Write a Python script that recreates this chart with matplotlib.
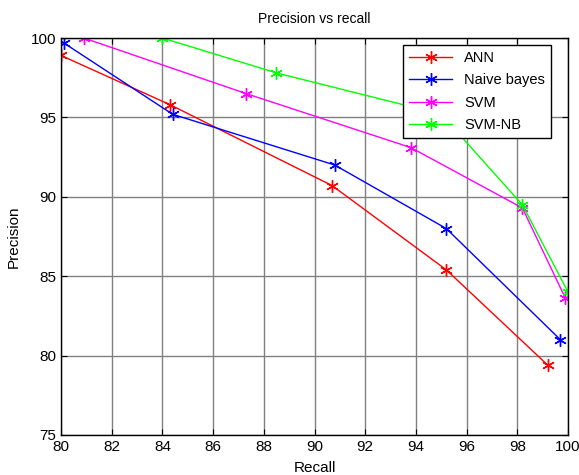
import matplotlib.pyplot as plt

plt.rcParams['font.family'] = ['Liberation Sans', 'DejaVu Sans']

# recall / precision
ann_x = [80.0, 84.3, 90.7, 95.2, 99.2]
ann_y = [98.9, 95.8, 90.7, 85.4, 79.4]

nb_x = [80.1, 84.4, 90.8, 95.2, 99.7]
nb_y = [99.7, 95.2, 92.0, 88.0, 81.0]

svm_x = [80.9, 87.3, 93.8, 98.2, 99.9]
svm_y = [100.0, 96.5, 93.1, 89.3, 83.6]

svmnb_x = [84.0, 88.5, 95.0, 98.2, 100.0]
svmnb_y = [100.0, 97.8, 95.2, 89.5, 84.0]

fig = plt.figure(figsize=(5.79, 4.75), dpi=100)
ax = fig.add_axes([61 / 579, 1 - 435 / 475, 507 / 579, 397 / 475])

mk = (6, 2, 0)  # asterisk, like matlab '*'
ax.plot(ann_x, ann_y, color='#ff0000', lw=1, marker=mk, ms=9, label='ANN')
ax.plot(nb_x, nb_y, color='#0000ff', lw=1, marker=mk, ms=9, label='Naive bayes')
ax.plot(svm_x, svm_y, color='#ff00ff', lw=1, marker=mk, ms=9, label='SVM')
ax.plot(svmnb_x, svmnb_y, color='#00ff00', lw=1, marker=mk, ms=9, label='SVM-NB')

ax.set_xlim(80, 100)
ax.set_ylim(75, 100)
ax.set_xticks(range(80, 101, 2))
ax.set_yticks(range(75, 101, 5))
ax.grid(True, color='#808080', lw=1, ls='-')
ax.set_axisbelow(True)
ax.tick_params(direction='in', length=4, labelsize=11, top=True, right=True, color='black')
for s in ax.spines.values():
    s.set_linewidth(1)

ax.set_title('Precision vs recall', fontsize=10, pad=11)
ax.set_xlabel('Recall', fontsize=11, labelpad=5)
ax.set_ylabel('Precision', fontsize=11, labelpad=7)

leg = ax.legend(loc='upper right', bbox_to_anchor=(0.966, 0.982), borderaxespad=0,
                fontsize=10.5, fancybox=False, framealpha=1, edgecolor='black',
                handlelength=3.0, borderpad=0.4, labelspacing=0.58)
leg.get_frame().set_linewidth(1)

fig.savefig('out.png', dpi=100)
